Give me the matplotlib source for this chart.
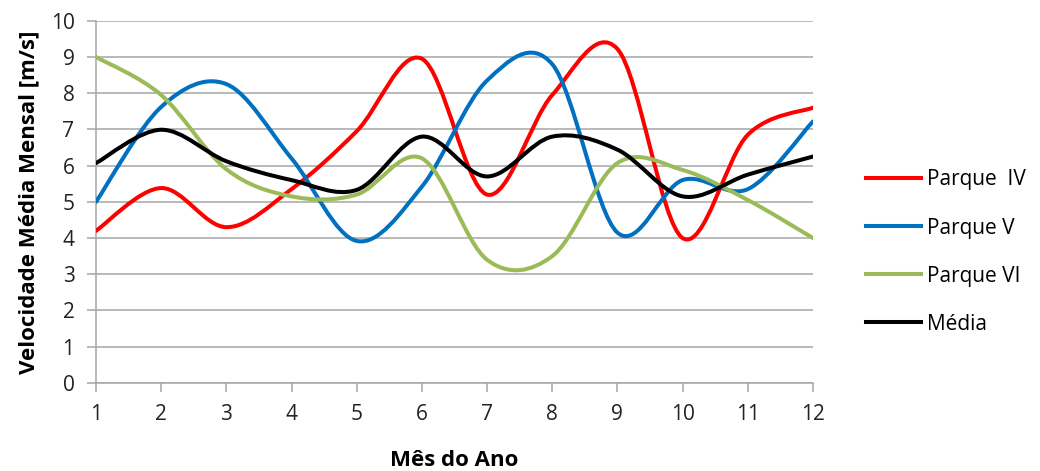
import numpy as np
import matplotlib.pyplot as plt
from matplotlib.path import Path
from matplotlib.patches import PathPatch
from matplotlib.lines import Line2D

plt.rcParams['font.family'] = ['Open Sans', 'DejaVu Sans']

meses = list(range(1, 13))
parque_iv = [4.2, 5.38, 4.3, 5.35, 6.95, 8.95, 5.2, 7.95, 9.22, 4.0, 6.85, 7.6]
parque_v = [5.0, 7.62, 8.25, 6.2, 3.92, 5.42, 8.35, 8.8, 4.15, 5.6, 5.35, 7.22]
parque_vi = [9.0, 7.95, 5.9, 5.15, 5.2, 6.2, 3.4, 3.5, 6.07, 5.88, 5.05, 4.0]
media = [6.07, 6.99, 6.12, 5.6, 5.33, 6.8, 5.7, 6.8, 6.44, 5.15, 5.75, 6.25]

series = [
    ('Parque  IV', parque_iv, '#FF0000'),
    ('Parque V', parque_v, '#0070C0'),
    ('Parque VI', parque_vi, '#9BBB59'),
    ('Média', media, '#000000'),
]


def smooth_path(xs, ys):
    # bezier segments through every point, catmull-rom style control points
    p = np.column_stack([xs, ys]).astype(float)
    n = len(p)
    verts = [p[0]]
    codes = [Path.MOVETO]
    for i in range(n - 1):
        prev = p[i - 1] if i > 0 else p[i]
        nxt = p[i + 2] if i + 2 < n else p[i + 1]
        c1 = p[i] + (p[i + 1] - prev) / 6.0
        c2 = p[i + 1] - (nxt - p[i]) / 6.0
        verts += [c1, c2, p[i + 1]]
        codes += [Path.CURVE4] * 3
    return Path(verts, codes)


fig = plt.figure(figsize=(10.4, 4.71), dpi=100)
ax = fig.add_axes([0.0923, 0.187, 0.6894, 0.769])

lw = 2.9
for nome, vals, cor in series:
    patch = PathPatch(smooth_path(meses, vals), facecolor='none', edgecolor=cor,
                      lw=lw, capstyle='round', joinstyle='round', zorder=3)
    ax.add_patch(patch)

ax.set_xlim(1, 12)
ax.set_ylim(0, 10)
ax.set_xticks(meses)
ax.set_yticks(range(0, 11))

grid_c = '#A6A6A6'
ax.grid(axis='y', color=grid_c, lw=1.1)
ax.set_axisbelow(True)
for s in ['top', 'right']:
    ax.spines[s].set_visible(False)
for s in ['left', 'bottom']:
    ax.spines[s].set_color(grid_c)
    ax.spines[s].set_linewidth(1.1)
ax.tick_params(axis='both', direction='out', length=6.5, width=1.1, color=grid_c,
               labelsize=15, labelcolor='#222222')
ax.tick_params(axis='y', pad=9)
ax.tick_params(axis='x', pad=9)

ax.set_xlabel('Mês do Ano', fontsize=16, fontweight='bold', labelpad=18)
ax.set_ylabel('Velocidade Média Mensal [m/s]', fontsize=16, fontweight='bold', labelpad=8)

handles = [Line2D([], [], color=c, lw=lw) for _, _, c in series]
fig.legend(handles, [n for n, _, _ in series], loc='upper left',
           bbox_to_anchor=(0.815, 0.68), frameon=False, fontsize=15,
           handlelength=2.6, handletextpad=0.3, labelspacing=1.3)

fig.savefig('out.png', dpi=100)
